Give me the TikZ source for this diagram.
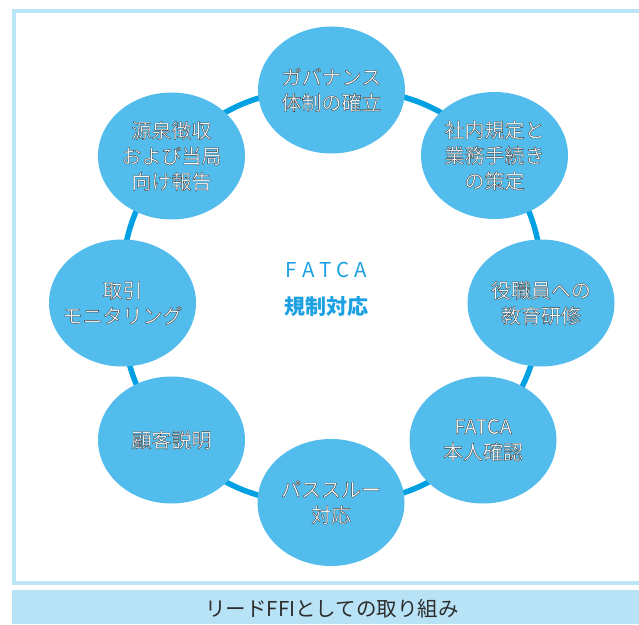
\documentclass[tikz,border=0pt]{standalone}
\usepackage{fontspec}
\setmainfont{Noto Sans CJK JP}
\usetikzlibrary{shapes.geometric}
\definecolor{ringblue}{RGB}{0,160,226}
\definecolor{bubblec}{RGB}{82,188,236}
\definecolor{framec}{RGB}{188,229,248}
\definecolor{barc}{RGB}{184,227,246}
\definecolor{titleblue}{RGB}{27,160,226}
\definecolor{darktext}{RGB}{45,45,45}
\pgfdeclarelayer{bg}
\pgfsetlayers{bg,main}
\newcommand\olstart{\special{pdf:bc [1] [0.22]}\special{pdf:literal direct 0.35 w 2 Tr}}
\newcommand\olend{\special{pdf:literal direct 0 Tr}\special{pdf:ec}}
\tikzset{
  bubble/.style={ellipse, fill=bubblec, minimum width=147pt, minimum height=127pt,
    inner xsep=-14pt, inner ysep=0pt, align=center,
    font=\fontsize{20}{25.5}\selectfont,
    execute at begin node=\olstart, execute at end node=\olend},
  ring/.style={draw=ringblue, line width=5.5pt},
  frameline/.style={draw=framec, line width=4pt},
}
\begin{document}
\begin{tikzpicture}[x=1pt,y=1pt]
\useasboundingbox (0,0) rectangle (639,624);
% frame and bottom bar
\path[frameline] (13.7,41) rectangle (660,612.5);
\fill[barc] (12,0) rectangle (660,34.5);
\node[text=darktext, font=\fontsize{20.5}{22}\selectfont] (bar) at (332,15.5) {リードFFIとしての取り組み};
% centre title
\node[text=titleblue, font=\fontsize{20.5}{24}\selectfont] (t1) at (326.5,354) {F\kern5pt A\kern5pt T\kern5pt C\kern5pt A};
\node[text=titleblue, font=\fontsize{21}{24}\selectfont\bfseries] (t2) at (326.5,317.5) {規制対応};
% bubbles
\node[bubble] (n1) at (331.5,534) {ガバナンス\\体制の確立};
\node[bubble] (n2) at (494.5,468.5) {社内規定と\\業務手続き\\の策定};
\node[bubble] (n3) at (541,321) {役職員への\\教育研修};
\node[bubble] (n4) at (483,184) {FATCA\\本人確認};
\node[bubble] (n5) at (331,121.5) {パススルー\\対応};
\node[bubble] (n6) at (171.5,184) {顧客説明};
\node[bubble] (n7) at (122.5,321) {取引\\モニタリング};
\node[bubble] (n8) at (171.5,468) {源泉徴収\\および当局\\向け報告};
% ring
\begin{pgfonlayer}{bg}
\draw[ring] (n1.center) to[bend left=24.5] (n2.center);
\draw[ring] (n2.center) to[bend left=21.4] (n3.center);
\draw[ring] (n3.center) to[bend left=20.9] (n4.center);
\draw[ring] (n4.center) to[bend left=23.2] (n5.center);
\draw[ring] (n5.center) to[bend left=24] (n6.center);
\draw[ring] (n6.center) to[bend left=20] (n7.center);
\draw[ring] (n7.center) to[bend left=21.5] (n8.center);
\draw[ring] (n8.center) to[bend left=24.5] (n1.center);
\end{pgfonlayer}
\end{tikzpicture}
\end{document}
